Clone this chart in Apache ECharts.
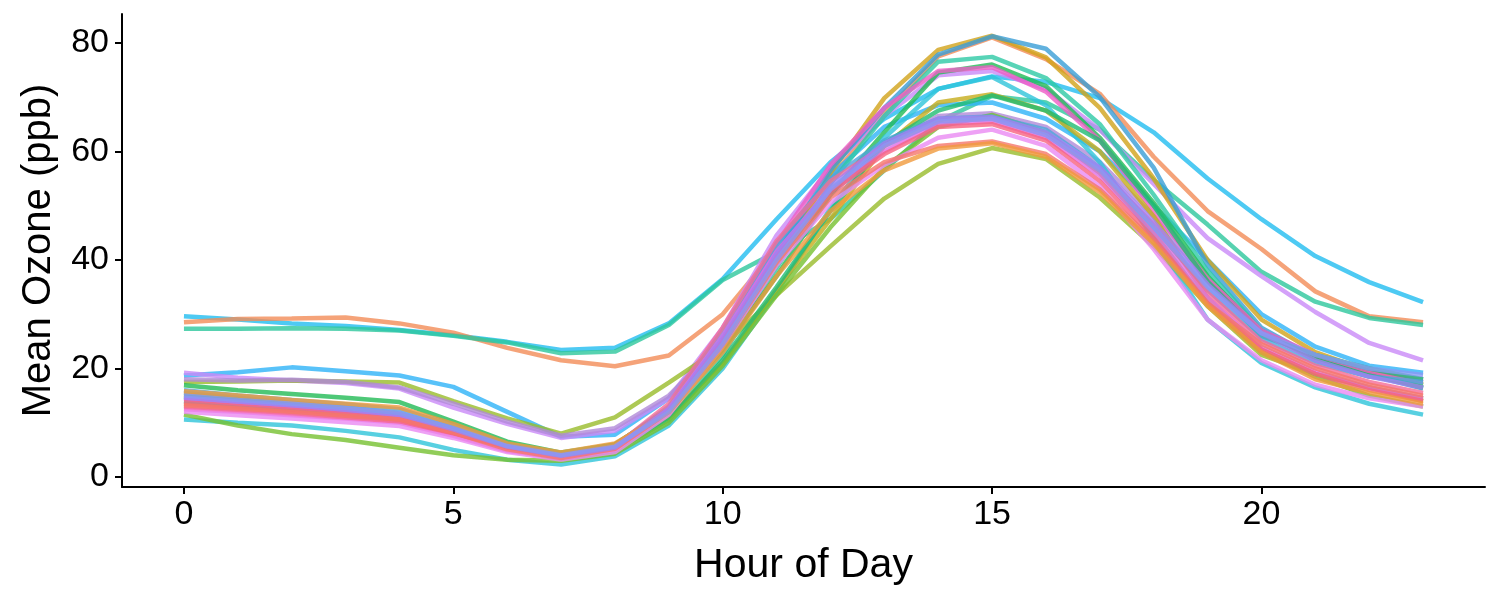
<!DOCTYPE html>
<html>
<head>
<meta charset="utf-8">
<script src="https://cdn.jsdelivr.net/npm/echarts@6/dist/echarts.min.js"></script>
<style>
  html, body { margin: 0; background: #fff; }
  #chart { width: 1500px; height: 600px; }
</style>
</head>
<body>
<div id="chart"></div>
<script>
// hour of day on the x axis
const hours = [0,1,2,3,4,5,6,7,8,9,10,11,12,13,14,15,16,17,18,19,20,21,22,23]
const xTicks = [0, 5, 10, 15, 20]
const yTicks = [0, 20, 40, 60, 80]

// mean ozone (ppb) per hour, one array per site
const s1  = [29.6,29.0,28.3,27.8,27.1,26.1,24.9,23.4,23.8,28.3,36.5,47.5,58.0,66.0,71.5,73.8,72.8,69.8,63.5,55.0,47.5,40.7,35.9,32.2]
const s2  = [28.5,29.1,29.2,29.4,28.3,26.6,23.8,21.5,20.4,22.4,30.0,42.0,55.0,67.0,77.5,81.0,77.0,70.6,59.0,49.0,42.0,34.2,29.6,28.5]
const s3  = [27.3,27.3,27.4,27.3,27.0,26.0,24.8,22.8,23.1,28.0,36.3,41.5,47.5,56.5,65.5,70.2,69.0,64.0,54.7,46.5,37.8,32.3,29.3,28.0]
const s4  = [18.7,19.3,20.2,19.5,18.7,16.6,12.0,7.4,7.8,14.5,26.0,42.0,55.5,64.5,68.5,69.0,66.0,60.0,50.0,40.0,30.0,24.0,20.5,19.2]
const s5  = [19.2,18.3,17.8,17.3,16.3,12.8,9.8,7.2,8.5,14.5,27.5,44.5,57.0,66.5,74.0,74.8,71.5,64.0,54.0,44.0,37.0,30.4,24.7,21.5]
const s6  = [17.5,17.6,17.8,17.6,17.4,14.0,10.8,8.0,11.0,17.4,24.0,33.5,42.5,51.3,57.7,60.6,58.6,51.5,42.5,31.5,22.5,19.0,16.5,14.5]
const s7  = [18.0,17.8,17.9,17.5,16.5,13.5,10.2,7.6,9.0,15.0,25.0,40.0,52.0,61.0,66.5,67.0,64.5,58.0,48.0,36.0,27.0,22.0,19.5,18.0]
const s8  = [13.5,12.8,12.1,11.3,10.3,8.0,5.2,4.0,6.0,12.5,24.0,39.0,56.0,69.8,78.7,81.3,77.3,68.0,55.0,40.0,29.0,23.0,19.5,17.0]
const s9  = [15.5,14.6,13.7,12.8,11.7,9.0,5.8,4.0,5.5,12.0,24.5,41.0,56.5,68.0,77.8,81.2,78.9,70.0,57.0,39.0,27.5,22.0,18.8,16.3]
const s10 = [14.0,13.3,12.6,11.9,11.0,8.5,5.2,3.4,5.0,11.0,22.5,38.5,54.0,66.5,76.5,77.4,73.5,65.0,52.0,38.0,27.0,21.5,18.5,17.0]
const s11 = [16.9,16.0,15.3,14.6,13.8,10.2,6.5,4.5,6.0,12.5,23.5,37.0,52.0,63.5,74.5,76.0,72.0,62.5,50.5,37.0,26.5,22.0,19.0,16.5]
const s12 = [12.5,12.0,11.4,10.8,10.0,7.6,4.8,3.5,5.0,12.0,25.5,43.0,57.5,68.0,74.8,75.5,71.0,62.0,49.0,36.5,27.0,22.5,19.5,17.5]
const s13 = [10.6,10.0,9.5,8.5,7.3,5.0,3.2,2.3,3.8,9.5,20.0,34.0,49.5,62.5,71.5,73.7,68.5,58.0,44.0,29.0,21.0,16.5,13.5,11.5]
const s14 = [15.2,14.3,13.5,12.5,11.5,8.8,5.5,3.8,5.5,11.0,21.0,34.5,47.5,61.0,69.0,70.5,67.5,60.0,48.0,33.0,23.5,19.0,16.5,14.0]
const s15 = [14.8,14.0,13.2,12.3,11.4,8.6,5.4,3.3,4.8,10.5,21.5,35.0,49.0,61.5,67.5,70.3,67.5,62.0,50.0,36.0,26.0,22.5,20.0,18.0]
const s16 = [11.5,9.5,7.9,6.8,5.4,4.0,3.2,3.0,4.3,10.0,20.5,33.5,46.0,57.0,64.5,66.7,63.5,56.0,45.0,32.0,23.0,18.5,15.0,13.0]
const s17 = [16.0,15.0,14.2,13.4,12.5,9.5,6.0,4.2,5.8,13.0,27.0,43.0,55.0,62.0,66.0,66.4,64.0,57.0,46.0,34.5,25.5,21.0,18.5,17.5]
const s18 = [13.0,12.4,11.8,11.0,10.2,7.8,5.0,3.8,5.6,13.5,27.5,43.5,54.5,61.0,65.5,66.0,63.0,56.5,46.5,34.0,25.0,20.5,17.5,15.5]
const s19 = [14.4,13.6,12.9,12.0,11.0,8.4,5.3,3.6,5.0,12.5,26.0,41.5,53.0,60.0,65.0,65.5,62.5,55.5,45.0,33.0,24.0,19.5,16.5,14.5]
const s20 = [13.8,13.1,12.4,11.6,10.6,8.1,5.0,3.4,5.0,12.0,25.0,40.5,52.5,59.5,64.5,65.0,62.0,54.5,44.0,32.0,23.5,19.0,16.0,14.0]
const s21 = [12.0,11.4,10.8,10.1,9.4,7.2,4.6,3.2,4.6,11.5,24.0,39.0,50.5,57.5,62.5,64.0,61.0,53.5,42.0,29.0,21.5,17.0,14.5,13.0]
const s22 = [13.2,12.6,12.0,11.3,10.6,8.2,5.1,3.5,5.2,12.0,24.5,39.5,51.5,58.0,61.0,61.8,59.5,53.0,43.5,32.0,24.5,20.0,17.0,15.0]
const s23 = [15.8,15.0,14.2,13.5,12.8,9.8,6.2,4.5,6.2,12.0,23.0,37.0,49.0,56.5,60.5,61.5,59.0,52.5,43.0,31.5,23.0,18.0,15.5,13.5]
const s24 = [14.6,13.9,13.2,12.4,11.5,8.8,5.6,3.9,5.4,12.5,25.5,41.0,53.5,61.5,66.0,66.3,63.5,57.0,47.0,35.5,26.5,21.5,18.5,16.5]
const s25 = [15.0,14.2,13.5,12.7,11.8,9.0,5.7,4.0,5.6,12.0,24.5,40.0,53.0,61.0,65.5,66.0,63.0,56.5,46.0,35.0,26.5,22.5,20.0,18.8]

const sites = [s1,s2,s3,s4,s5,s6,s7,s8,s9,s10,s11,s12,s13,s14,s15,s16,s17,s18,s19,s20,s21,s22,s23,s24,s25]
const colors = ['#22bdf0','#f28c57','#2dc79c','#2eb3f7','#c98af7','#98bb2a','#b08ad8',
                '#d1a21a','#3a9ed6','#2ec9a5','#22ba55','#ee5ec6','#2ec4da','#c6ad1c','#1fbb72',
                '#76c12f','#4ea6dc','#f56c97','#e06de6','#f7637f','#ea8af2','#f5776a','#f09a3c',
                '#a27ff2','#8898f5']

const chart = echarts.init(document.getElementById('chart'), null, { renderer: 'canvas' })
const font = 'Liberation Sans'

const option = {
  animation: false,
  backgroundColor: '#ffffff',
  color: colors,
  grid: { left: 122, right: 15, top: 14, bottom: 113 },
  xAxis: {
    type: 'value',
    min: -1.15,
    max: 24.15,
    name: 'Hour of Day',
    nameLocation: 'middle',
    nameGap: 58,
    nameTextStyle: { fontFamily: font, fontSize: 41, color: '#000' },
    axisLine: { onZero: false, lineStyle: { color: '#000', width: 2 } },
    axisTick: { customValues: xTicks, length: 7, lineStyle: { color: '#000', width: 2 } },
    axisLabel: { customValues: xTicks, margin: 11, fontFamily: font, fontSize: 34, color: '#000' },
    splitLine: { show: false }
  },
  yAxis: {
    type: 'value',
    min: -1.84,
    max: 85.3,
    name: 'Mean Ozone (ppb)',
    nameLocation: 'middle',
    nameRotate: 90,
    nameGap: 63,
    nameTextStyle: { fontFamily: font, fontSize: 40, color: '#000' },
    axisLine: { show: true, onZero: false, lineStyle: { color: '#000', width: 2 } },
    axisTick: { show: true, customValues: yTicks, length: 7, lineStyle: { color: '#000', width: 2 } },
    axisLabel: { customValues: yTicks, margin: 13, fontFamily: font, fontSize: 34, color: '#000' },
    splitLine: { show: false }
  },
  series: sites.map((vals, i) => ({
    name: 'site ' + (i + 1),
    type: 'line',
    data: hours.map((h, k) => [h, vals[k]]),
    showSymbol: false,
    silent: true,
    lineStyle: { width: 4.5, opacity: 0.8, color: colors[i] }
  }))
}

chart.setOption(option)
</script>
</body>
</html>
